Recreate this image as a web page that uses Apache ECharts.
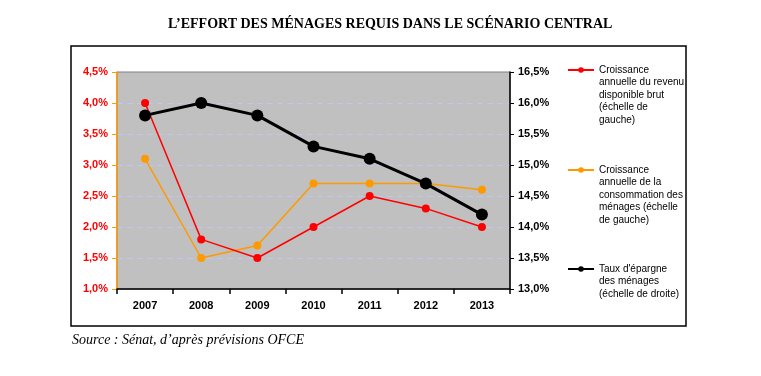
<!DOCTYPE html>
<html>
<head>
<meta charset="utf-8">
<script src="https://cdn.jsdelivr.net/npm/echarts@6/dist/echarts.min.js"></script>
<style>
  html, body { margin: 0; padding: 0; background: #fff; }
  #chart { width: 761px; height: 376px; }
</style>
</head>
<body>
<div id="chart"></div>
<script>
// données
var years = ['2007', '2008', '2009', '2010', '2011', '2012', '2013'];
var revenu = [4.0, 1.8, 1.5, 2.0, 2.5, 2.3, 2.0];       // échelle de gauche
var conso = [3.1, 1.5, 1.7, 2.7, 2.7, 2.7, 2.6];        // échelle de gauche
var epargne = [15.8, 16.0, 15.8, 15.3, 15.1, 14.7, 14.2]; // échelle de droite

var names = ['revenu', 'conso', 'epargne'];
var legendTexts = [
    'Croissance\nannuelle du revenu\ndisponible brut\n(échelle de\ngauche)',
    'Croissance\nannuelle de la\nconsommation des\nménages (échelle\nde gauche)',
    'Taux d\'épargne\ndes ménages\n(échelle de droite)'
];

var LH = 12.5;
// le texte est centré sur l'icône : on ajoute des lignes vides avant
// pour que la première ligne tombe à la hauteur de l'icône
function legendFor(i, iconY) {
    var n = legendTexts[i].split('\n').length;
    var pad = new Array(n).join('\n');
    return {
        data: [names[i]],
        orient: 'vertical',
        left: 567,
        top: iconY - (2 * n - 1) * LH / 2,
        padding: 0,
        itemWidth: 26,
        itemHeight: 7,
        selectedMode: false,
        formatter: function () { return pad + legendTexts[i]; },
        textStyle: {
            fontFamily: 'Liberation Sans',
            fontSize: 10,
            color: '#000',
            lineHeight: LH
        }
    };
}

var pct = function (v) { return v.toFixed(1).replace('.', ',') + '%'; };

var myChart = echarts.init(document.getElementById('chart'));

myChart.setOption({
    animation: false,
    title: {
        text: 'L’EFFORT DES MÉNAGES REQUIS DANS LE SCÉNARIO CENTRAL',
        left: 163,
        top: 12,
        textStyle: {
            fontFamily: 'Liberation Serif',
            fontWeight: 'bold',
            fontSize: 14,
            color: '#000'
        }
    },
    graphic: [
        {
            type: 'rect',
            shape: { x: 71, y: 46, width: 615, height: 280 },
            style: { fill: 'none', stroke: '#000', lineWidth: 1.5 },
            z: 0
        },
        {
            type: 'text',
            left: 72,
            top: 333,
            style: {
                text: 'Source : Sénat, d’après prévisions OFCE',
                font: 'italic 14px "Liberation Serif"',
                fill: '#000'
            }
        }
    ],
    legend: [legendFor(0, 70), legendFor(1, 170), legendFor(2, 269)],
    grid: {
        left: 117,
        right: 251,
        top: 72,
        bottom: 87,
        show: true,
        backgroundColor: '#C0C0C0',
        borderColor: '#808080',
        borderWidth: 1
    },
    xAxis: {
        type: 'category',
        data: years,
        boundaryGap: true,
        axisLine: { lineStyle: { color: '#000', width: 1.5 } },
        axisTick: { show: true, length: 5, lineStyle: { color: '#000', width: 1.5 } },
        axisLabel: {
            margin: 11,
            fontFamily: 'Liberation Sans',
            fontWeight: 'bold',
            fontSize: 11,
            color: '#000'
        },
        splitLine: { show: false }
    },
    yAxis: [
        {
            type: 'value',
            min: 1,
            max: 4.5,
            interval: 0.5,
            axisLine: { show: true, lineStyle: { color: '#FF9900', width: 1.5 } },
            axisTick: { show: true, length: 5, lineStyle: { color: '#FF9900' } },
            axisLabel: {
                margin: 9,
                formatter: pct,
                fontFamily: 'Liberation Sans',
                fontWeight: 'bold',
                fontSize: 11,
                color: '#FF0000'
            },
            splitLine: {
                show: true,
                showMinLine: false,
                showMaxLine: false,
                lineStyle: { color: '#C4C4F0', type: [6, 4], width: 1 }
            }
        },
        {
            type: 'value',
            min: 13,
            max: 16.5,
            interval: 0.5,
            position: 'right',
            axisLine: { show: true, lineStyle: { color: '#000', width: 1.5 } },
            axisTick: { show: true, length: 4, lineStyle: { color: '#000' } },
            axisLabel: {
                margin: 8,
                formatter: pct,
                fontFamily: 'Liberation Sans',
                fontWeight: 'bold',
                fontSize: 11,
                color: '#000'
            },
            splitLine: { show: false }
        }
    ],
    series: [
        {
            name: names[0],
            type: 'line',
            data: revenu,
            symbol: 'circle',
            symbolSize: 8,
            z: 3,
            itemStyle: { color: '#FF0000' },
            lineStyle: { color: '#FF0000', width: 1.5 }
        },
        {
            name: names[1],
            type: 'line',
            data: conso,
            symbol: 'circle',
            symbolSize: 8,
            z: 2,
            itemStyle: { color: '#FF9900' },
            lineStyle: { color: '#FF9900', width: 1.5 }
        },
        {
            name: names[2],
            type: 'line',
            yAxisIndex: 1,
            data: epargne,
            symbol: 'circle',
            symbolSize: 12,
            z: 4,
            itemStyle: { color: '#000' },
            lineStyle: { color: '#000', width: 3 }
        }
    ]
});
</script>
</body>
</html>
